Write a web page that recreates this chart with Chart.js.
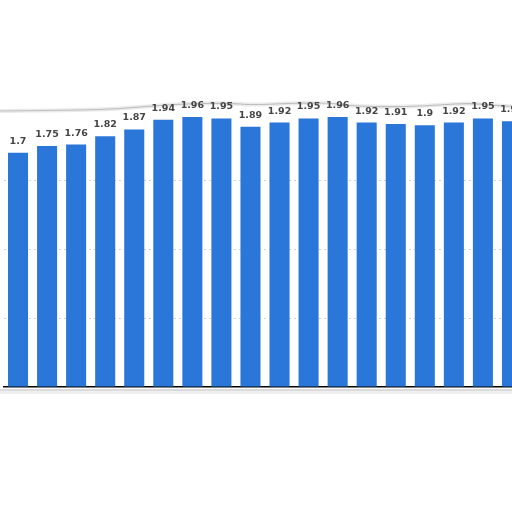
<!DOCTYPE html>
<html lang="en">
<head>
    <meta charset="UTF-8">
    <title>Bar chart</title>
    <script src="https://cdn.jsdelivr.net/npm/chart.js"></script>
    <style>
        html, body { margin: 0; padding: 0; background: #fff; overflow: hidden; }
        #wrap { position: absolute; left: 0; top: 0; width: 540px; height: 512px; }
    </style>
</head>
<body>
<div id="wrap"><canvas id="barChart"></canvas></div>
<script>
    // values (x labels are not visible in the crop)
    const categories = ['1', '2', '3', '4', '5', '6', '7', '8', '9', '10', '11', '12', '13', '14', '15', '16', '17', '18'];
    const values = [1.7, 1.75, 1.76, 1.82, 1.87, 1.94, 1.96, 1.95, 1.89, 1.92, 1.95, 1.96, 1.92, 1.91, 1.9, 1.92, 1.95, 1.93];
    const yTicks = [0, 0.5, 1, 1.5, 2];

    // value labels above each bar
    const valueLabels = {
        id: 'valueLabels',
        afterDatasetsDraw(chart) {
            const ctx = chart.ctx;
            const meta = chart.getDatasetMeta(0);
            ctx.save();
            ctx.font = 'bold 9.5px "DejaVu Sans"';
            ctx.fillStyle = '#454545';
            ctx.textAlign = 'center';
            ctx.textBaseline = 'alphabetic';
            meta.data.forEach((bar, i) => {
                ctx.fillText(String(values[i]), bar.x, bar.y - 9);
            });
            ctx.restore();
        }
    };

    // torn paper edges at top and bottom of the crop
    const paperEdges = {
        id: 'paperEdges',
        beforeDraw(chart) {
            const ctx = chart.ctx;
            const pts = [[0, 111], [100, 110], [140, 107], [180, 104], [230, 103], [250, 105], [300, 103], [330, 103], [350, 106], [400, 107], [440, 105], [470, 103], [500, 106], [540, 107]];
            ctx.save();
            ctx.beginPath();
            ctx.moveTo(pts[0][0], pts[0][1]);
            for (let i = 1; i < pts.length - 1; i++) {
                const mx = (pts[i][0] + pts[i + 1][0]) / 2;
                const my = (pts[i][1] + pts[i + 1][1]) / 2;
                ctx.quadraticCurveTo(pts[i][0], pts[i][1], mx, my);
            }
            ctx.lineTo(pts[pts.length - 1][0], pts[pts.length - 1][1]);
            ctx.strokeStyle = 'rgba(215,215,215,0.5)';
            ctx.lineWidth = 4;
            ctx.stroke();
            ctx.strokeStyle = 'rgba(160,160,160,0.6)';
            ctx.lineWidth = 1.2;
            ctx.stroke();

            ctx.fillStyle = 'rgba(195,195,195,0.6)';
            ctx.fillRect(0, 389, 540, 2);
            ctx.fillStyle = 'rgba(228,228,228,0.6)';
            ctx.fillRect(0, 391, 540, 3);
            ctx.restore();
        }
    };

    const ctx = document.getElementById('barChart').getContext('2d');
    new Chart(ctx, {
        type: 'bar',
        data: {
            labels: categories,
            datasets: [{
                data: values,
                backgroundColor: '#2b76d9',
                categoryPercentage: 1,
                barPercentage: 0.69
            }]
        },
        options: {
            responsive: true,
            maintainAspectRatio: false,
            animation: false,
            devicePixelRatio: 1,
            layout: { padding: { left: 3.5, right: 13.5, top: 111.5, bottom: 117 } },
            plugins: { legend: { display: false }, tooltip: { enabled: false } },
            scales: {
                x: {
                    grid: { display: false },
                    ticks: { display: false },
                    border: { display: true, color: '#000', width: 1.5 }
                },
                y: {
                    display: true,
                    min: 0,
                    max: 2,
                    afterBuildTicks: axis => { axis.ticks = yTicks.map(v => ({ value: v })); },
                    ticks: { display: false },
                    grid: {
                        drawTicks: false,
                        color: c => (c.tick && (c.tick.value === 2 || c.tick.value === 0)) ? 'rgba(0,0,0,0)' : '#d2d2d2'
                    },
                    border: { display: false, dash: [2, 3] }
                }
            }
        },
        plugins: [paperEdges, valueLabels]
    });
</script>
</body>
</html>
